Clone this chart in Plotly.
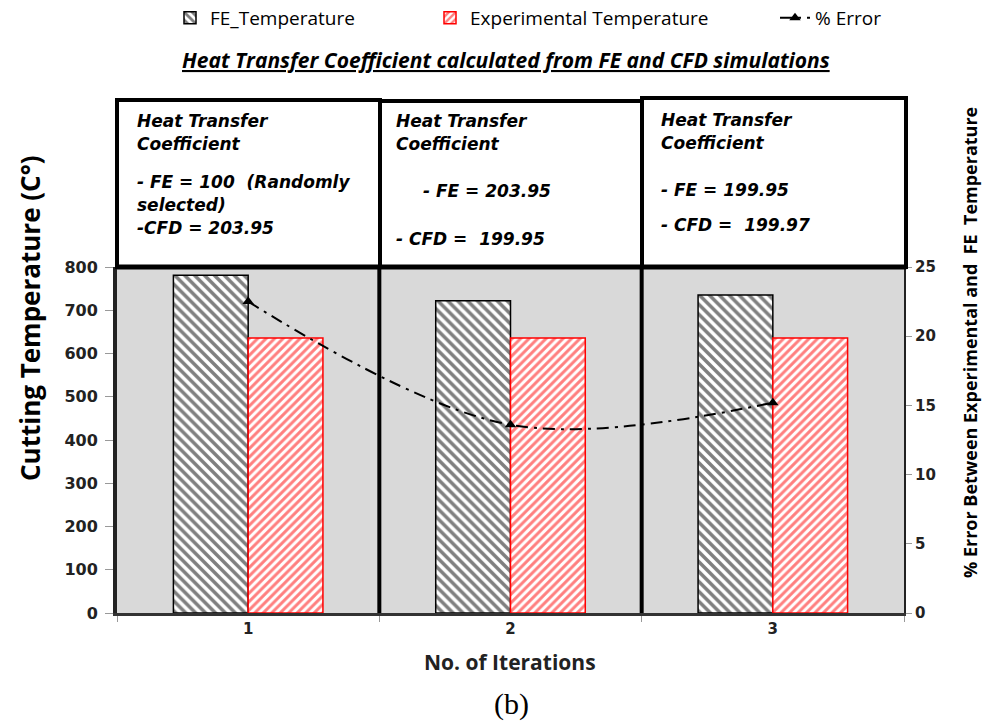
import plotly.graph_objects as go

# ---------------- data ----------------
categories = ["1", "2", "3"]
fe_temperature = [781, 722, 735]
exp_temperature = [636, 636, 636]
pct_error = [22.5, 13.6, 15.2]

left_ticks = [0, 100, 200, 300, 400, 500, 600, 700, 800]
right_ticks = [0, 5, 10, 15, 20, 25]

box_lines = [
    ["Heat Transfer", "Coefficient", "- FE = 100  (Randomly", "selected)", "-CFD = 203.95"],
    ["Heat Transfer", "Coefficient", "- FE = 203.95", "- CFD =  199.95"],
    ["Heat Transfer", "Coefficient", "- FE = 199.95", "- CFD =  199.97"],
]

# ---------------- layout geometry (pixels) ----------------
W, H = 1003, 726
L, R, T, B = 117, 904, 267, 613   # plot area edges in px


def xp(px):
    return (px - L) / (R - L)


def yp(py):
    return (B - py) / (B - T)


# text positions for the box annotations (px)
box_text_pos = [
    [(135, 121), (135, 144), (135, 182), (135, 205), (135, 228)],
    [(394, 121), (394, 144), (421, 191), (394, 239)],
    [(659, 120), (659, 143), (659, 190), (659, 225)],
]
box_rects = [(117, 380, 100), (380, 642, 101), (642, 906, 98)]

fig = go.Figure()

fig.add_trace(go.Bar(
    x=categories, y=fe_temperature, name="FE_Temperature",
    marker=dict(color="white",
                line=dict(color="black", width=1.5),
                pattern=dict(shape="\\", fgcolor="black", bgcolor="white",
                             size=7, solidity=0.5, fillmode="overlay")),
    legend="legend", showlegend=True,
))
fig.add_trace(go.Bar(
    x=categories, y=exp_temperature, name="Experimental Temperature",
    marker=dict(color="white",
                line=dict(color="red", width=1.5),
                pattern=dict(shape="/", fgcolor="red", bgcolor="white",
                             size=6, solidity=0.5, fillmode="overlay")),
    legend="legend2", showlegend=True,
))
fig.add_trace(go.Scatter(
    x=categories, y=pct_error, name="% Error", yaxis="y2",
    mode="lines+markers",
    line=dict(color="black", width=2, dash="12px,6px,3px,6px", shape="spline", smoothing=1),
    marker=dict(symbol="triangle-up", size=10, color="black"),
    legend="legend3", showlegend=True,
))

legend_font = dict(family="Open Sans", size=19, color="black")

fig.update_layout(
    width=W, height=H,
    showlegend=True,
    margin=dict(l=L, r=W - R, t=T, b=H - B, autoexpand=False),
    paper_bgcolor="white",
    plot_bgcolor="#d9d9d9",
    bargap=0.43, bargroupgap=0,
    barmode="group",
    font=dict(family="Open Sans", color="black"),
    xaxis=dict(
        type="category", range=[-0.5, 2.5],
        tickson="boundaries", ticks="outside", ticklen=6, tickcolor="#999",
        tickfont=dict(family="DejaVu Sans", size=15, color="#222", weight="bold"),
        showline=True, linecolor="#333", linewidth=3,
        showgrid=False, zeroline=False, fixedrange=True,
    ),
    yaxis=dict(
        range=[0, 800], tickvals=left_ticks, ticks="outside", ticklen=8,
        tickcolor="#999", tickfont=dict(family="DejaVu Sans", size=16, color="#222", weight="bold"),
        showline=True, linecolor="#222", linewidth=4,
        showgrid=False, zeroline=False, ticklabelstandoff=4,
    ),
    yaxis2=dict(
        overlaying="y", side="right", range=[0, 25], tickvals=right_ticks,
        ticks="outside", ticklen=6, tickcolor="#999",
        tickfont=dict(family="DejaVu Sans", size=15, color="#222", weight="bold"),
        showline=True, linecolor="#222", linewidth=2,
        showgrid=False, zeroline=False,
    ),
    legend=dict(orientation="h", x=xp(170), y=yp(18), xanchor="left", yanchor="middle",
                font=legend_font, bgcolor="rgba(0,0,0,0)", visible=True),
    legend2=dict(orientation="h", x=xp(430), y=yp(18), xanchor="left", yanchor="middle",
                 font=legend_font, bgcolor="rgba(0,0,0,0)", visible=True),
    legend3=dict(orientation="h", x=xp(775), y=yp(18), xanchor="left", yanchor="middle",
                 font=legend_font, bgcolor="rgba(0,0,0,0)", visible=True),
)

shapes = []
# boxes above the plot
for (x0, x1, ytop) in box_rects:
    shapes.append(dict(type="rect", xref="paper", yref="paper",
                       x0=xp(x0), x1=xp(x1), y0=1, y1=yp(ytop),
                       line=dict(color="black", width=4), fillcolor="white", layer="above"))
# category dividers in plot
for xb in [0.5, 1.5]:
    shapes.append(dict(type="line", xref="x", yref="paper", x0=xb, x1=xb, y0=0, y1=1,
                       line=dict(color="black", width=4), layer="above"))
# thick top border of plot area
shapes.append(dict(type="line", xref="paper", yref="paper", x0=0, x1=1.003, y0=1, y1=1,
                   line=dict(color="black", width=5), layer="above"))
fig.update_layout(shapes=shapes)

annotations = []
for lines, poss in zip(box_lines, box_text_pos):
    for txt, (px_, py_) in zip(lines, poss):
        annotations.append(dict(
            text=f"<b><i>{txt}</i></b>", xref="paper", yref="paper",
            x=xp(px_), y=yp(py_), xanchor="left", yanchor="middle", showarrow=False,
            font=dict(family="DejaVu Sans", size=17, color="black")))

annotations.append(dict(
    text="<b><i><u>Heat Transfer Coefficient calculated from FE and CFD simulations</u></i></b>",
    xref="paper", yref="paper", x=xp(506), y=yp(60), xanchor="center", yanchor="middle",
    showarrow=False, font=dict(family="Open Sans", size=21, color="black")))
annotations.append(dict(
    text="<b>Cutting Temperature (C°)</b>", textangle=-90,
    xref="paper", yref="paper", x=xp(30), y=yp(318), xanchor="center", yanchor="middle",
    showarrow=False, font=dict(family="Open Sans", size=26, color="black")))
annotations.append(dict(
    text="<b>% Error Between Experimental and  FE  Temperature</b>", textangle=-90,
    xref="paper", yref="paper", x=xp(970), y=yp(343), xanchor="center", yanchor="middle",
    showarrow=False, font=dict(family="Open Sans", size=18, color="black")))
annotations.append(dict(
    text="<b>No. of Iterations</b>",
    xref="paper", yref="paper", x=xp(510), y=yp(662), xanchor="center", yanchor="middle",
    showarrow=False, font=dict(family="Open Sans", size=21, color="#222")))
annotations.append(dict(
    text="(b)",
    xref="paper", yref="paper", x=xp(512), y=yp(704), xanchor="center", yanchor="middle",
    showarrow=False, font=dict(family="Liberation Serif", size=30, color="black")))
fig.update_layout(annotations=annotations)

fig.write_html("out.html")
